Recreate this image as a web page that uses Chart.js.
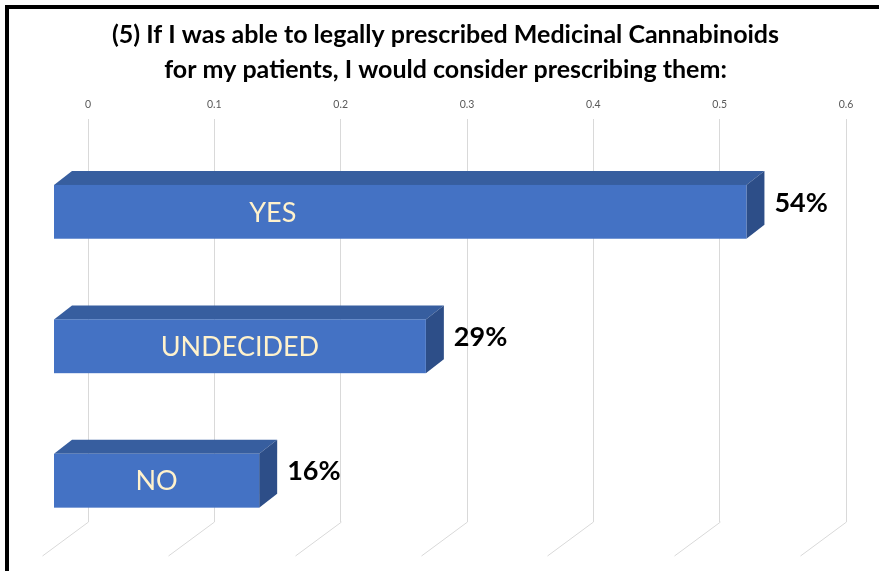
<!DOCTYPE html>
<html>
<head>
<meta charset="utf-8">
<script src="https://cdn.jsdelivr.net/npm/chart.js@4/dist/chart.umd.min.js"></script>
<style>
  html, body { margin: 0; padding: 0; background: #ffffff; }
  #wrap { position: relative; width: 879px; height: 571px; overflow: hidden; }
  #frame { position: absolute; left: 5px; top: 5px; width: 2000px; height: 2000px;
           border-top: 4px solid #000; border-left: 4px solid #000; box-sizing: border-box; pointer-events: none; }
  canvas { position: absolute; left: 0; top: 0; }
</style>
</head>
<body>
<div id="wrap">
  <canvas id="c" width="879" height="571"></canvas>
  <div id="frame"></div>
</div>
<script>
// ---- data ----
const titleLines = ["(5) If I was able to legally prescribed Medicinal Cannabinoids",
                    "for my patients, I would consider prescribing them:"];
const categories = ["YES", "UNDECIDED", "NO"];
const shares = [0.54, 0.29, 0.16];
const valueLabels = ["54%", "29%", "16%"];
const axisMin = 0, axisMax = 0.6, axisStep = 0.1;

const FONT = "Lato, 'Open Sans', 'DejaVu Sans', sans-serif";
const FRONT = '#4472C4', TOP = '#375E9F', SIDE = '#2D4E88', GRID = '#D9D9D9';

const bars3d = {
  id: 'bars3d',
  beforeDatasetsDraw(chart) {
    const ctx = chart.ctx, xs = chart.scales.x, area = chart.chartArea;
    ctx.save();
    ctx.strokeStyle = GRID; ctx.lineWidth = 1;
    xs.ticks.forEach(t => {
      const x = Math.round(xs.getPixelForValue(t.value)) + 0.5;
      ctx.beginPath();
      ctx.moveTo(x, area.bottom);
      ctx.lineTo(x - 46, area.bottom + 34);
      ctx.stroke();
    });
    ctx.restore();
  },
  afterDatasetsDraw(chart, args, opts) {
    const ctx = chart.ctx, xs = chart.scales.x;
    const meta = chart.getDatasetMeta(0);
    const dx = 18, dy = 14;
    ctx.save();
    meta.data.forEach((el, i) => {
      const v = chart.data.datasets[0].data[i];
      const h = el.height;
      const yc = el.y + 26;
      const T = yc - h / 2, B = yc + h / 2;
      const x0 = xs.getPixelForValue(0);
      const L = x0 - 34;
      const R = L + (xs.getPixelForValue(v) - x0) * 1.015;
      // top face
      ctx.fillStyle = TOP;
      ctx.beginPath();
      ctx.moveTo(L, T); ctx.lineTo(L + dx, T - dy); ctx.lineTo(R + dx, T - dy); ctx.lineTo(R, T);
      ctx.closePath(); ctx.fill();
      // side face
      ctx.fillStyle = SIDE;
      ctx.beginPath();
      ctx.moveTo(R, T); ctx.lineTo(R + dx, T - dy); ctx.lineTo(R + dx, B - dy); ctx.lineTo(R, B);
      ctx.closePath(); ctx.fill();
      // front face
      ctx.fillStyle = FRONT;
      ctx.fillRect(L, T, R - L, B - T);
      // category label
      const frac = opts.labelFraction[i];
      ctx.fillStyle = '#FFF2CC';
      ctx.font = '27px ' + FONT;
      ctx.textAlign = 'center'; ctx.textBaseline = 'middle';
      ctx.fillText(chart.data.labels[i], L + (R - L) * frac, yc + 1);
      // value label
      ctx.fillStyle = '#000000';
      ctx.font = 'bold 27px ' + FONT;
      ctx.textAlign = 'left';
      ctx.fillText(valueLabels[i], R + dx + 10, yc - 9);
    });
    ctx.restore();
  }
};

new Chart(document.getElementById('c'), {
  type: 'bar',
  data: {
    labels: categories,
    datasets: [{ data: shares, backgroundColor: 'rgba(0,0,0,0)', borderWidth: 0,
                 categoryPercentage: 1.0, barPercentage: 0.4 }]
  },
  options: {
    indexAxis: 'y',
    responsive: false,
    animation: false,
    events: [],
    layout: { padding: { left: 12, right: 0, top: 0, bottom: 49 } },
    plugins: {
      legend: { display: false },
      tooltip: { enabled: false },
      title: {
        display: true, text: titleLines, color: '#000000',
        font: { family: FONT, size: 25, weight: 'bold', lineHeight: 1.38 },
        padding: { top: 18, bottom: 3 }
      },
      bars3d: { labelFraction: [0.316, 0.5, 0.5] }
    },
    scales: {
      x: {
        position: 'top', min: axisMin, max: axisMax,
        ticks: { stepSize: axisStep, color: '#595959', padding: 8,
                 font: { family: FONT, size: 10.5 } },
        grid: { color: GRID, drawTicks: false },
        border: { display: false }
      },
      y: {
        display: true, position: 'left',
        ticks: { display: false }, grid: { display: false }, border: { display: false },
        afterFit(s) { s.width = 76; }
      },
      yRight: {
        type: 'linear', axis: 'y', display: true, position: 'right',
        ticks: { display: false }, grid: { display: false }, border: { display: false },
        afterFit(s) { s.width = 33; }
      }
    }
  },
  plugins: [bars3d]
});
</script>
</body>
</html>
